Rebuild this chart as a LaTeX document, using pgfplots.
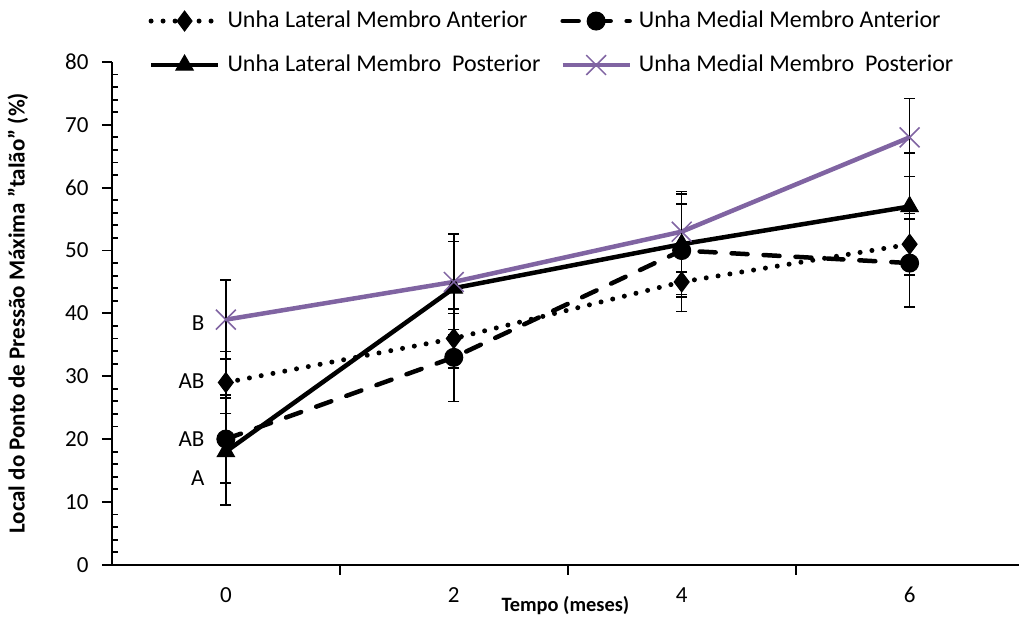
\documentclass[border=0pt]{standalone}
\usepackage{pgfplots}
\pgfplotsset{compat=1.18}
\usepackage{pgfplotstable}
\usepackage{fontspec}
\setmainfont{Carlito}
\definecolor{purp}{RGB}{128,100,162}

% x = tempo (meses), y = local do ponto (%), e = desvio
\pgfplotstableread{
x y e
0 29 4.9
2 36 4.7
4 45 4.7
6 51 4.9
}\latant
\pgfplotstableread{
x y e
0 20 7.0
2 33 7.0
4 50 7.4
6 48 7.0
}\medant
\pgfplotstableread{
x y e
0 18 8.5
2 44 7.4
4 51 8.0
6 57 8.5
}\latpost
\pgfplotstableread{
x y e
0 39 6.3
2 45 7.6
4 53 6.4
6 68 6.2
}\medpost

\begin{document}
\begin{tikzpicture}
\begin{axis}[
  scale only axis,
  width=453.7pt, height=251.5pt,
  xmin=-1, xmax=6.96, ymin=0, ymax=80,
  clip=false,
  axis x line*=bottom, axis y line*=left,
  axis line style={line width=1pt, -},
  xtick={1,3,5}, xticklabels={},
  extra x ticks={0,2,4,6}, extra x tick labels={0,2,4,6},
  extra x tick style={major tick length=0pt},
  ytick={0,10,...,80},
  minor y tick num=4,
  tick align=outside,
  major tick length=5pt, minor tick length=-3pt,
  tick style={black, line width=0.9pt},
  /pgf/number format/assume math mode=true,
  ticklabel style={font=\fontsize{11.5}{13}\selectfont, inner sep=0pt},
  yticklabel style={xshift=-6.5pt},
  xticklabel style={anchor=center, yshift=-15pt},
  xlabel={Tempo (meses)},
  ylabel={Local do Ponto de Pressão Máxima "talão" (\%)},
  xlabel style={font=\fontsize{10.2}{12}\selectfont\bfseries,
    at={([yshift=-20.5pt]axis description cs:0.5,0)}, anchor=center},
  ylabel style={font=\fontsize{11.5}{13}\selectfont\bfseries,
    at={([xshift=-47pt]axis description cs:0,0.5)}, anchor=center},
  legend columns=2,
  legend cell align=left,
  legend style={draw=none, fill=none, at={(axis description cs:0.04,1.104)}, anchor=north west,
    font=\fontsize{12}{14}\selectfont, inner sep=0pt,
    nodes={inner sep=0pt, text height=8.5pt, text depth=2.5pt},
    row sep=11pt,
    /tikz/column 2/.style={column sep=10pt}},
  legend image code/.code={
    \draw[mark repeat=2, mark phase=2, #1] plot coordinates {(0pt,0pt) (16.75pt,0pt) (33.5pt,0pt)};
    \node[anchor=west] at (36pt,0pt) {};
  },
  error bars/error bar style={solid, black, line width=0.75pt},
  error bars/error mark options={solid, black, line width=0.75pt, mark size=2.75pt, rotate=90},
]
\addplot[black, line width=2.5pt, dash pattern=on 0pt off 6pt, line cap=round,
  mark=diamond*, mark options={solid, fill=black, line width=0.5pt, mark size=5pt},
  error bars/.cd, y dir=both, y explicit]
  table[x=x, y=y, y error=e] {\latant};
\addlegendentry{Unha Lateral Membro Anterior}
\addplot[black, line width=2.25pt, dash pattern=on 8pt off 8pt, line cap=round,
  mark=*, mark options={solid, fill=black, line width=0.5pt, mark size=4.5pt},
  error bars/.cd, y dir=both, y explicit]
  table[x=x, y=y, y error=e] {\medant};
\addlegendentry{Unha Medial Membro Anterior}
\addplot[black, line width=2.25pt,
  mark=triangle*, mark options={solid, fill=black, line width=0.5pt, mark size=5pt},
  error bars/.cd, y dir=both, y explicit]
  table[x=x, y=y, y error=e] {\latpost};
\addlegendentry{Unha Lateral Membro\ \ Posterior}
\addplot[purp, line width=2.25pt,
  mark=x, mark options={solid, purp, line width=0.75pt, mark size=7pt},
  error bars/.cd, y dir=both, y explicit]
  table[x=x, y=y, y error=e] {\medpost};
\addlegendentry{Unha Medial Membro\ \ Posterior}

\node[anchor=east, font=\fontsize{11.5}{13}\selectfont, inner sep=0pt] at (axis cs:-0.184,38.4) {B};
\node[anchor=east, font=\fontsize{11.5}{13}\selectfont, inner sep=0pt] at (axis cs:-0.184,29.2) {AB};
\node[anchor=east, font=\fontsize{11.5}{13}\selectfont, inner sep=0pt] at (axis cs:-0.184,20.0) {AB};
\node[anchor=east, font=\fontsize{11.5}{13}\selectfont, inner sep=0pt] at (axis cs:-0.184,13.8) {A};

\coordinate (bbl) at (axis cs:-1.982,-8.91);
\coordinate (bbr) at (axis cs:6.96,89.86);
\end{axis}
\pgfresetboundingbox
\path[use as bounding box] (bbl) rectangle (bbr);
\end{tikzpicture}
\end{document}
